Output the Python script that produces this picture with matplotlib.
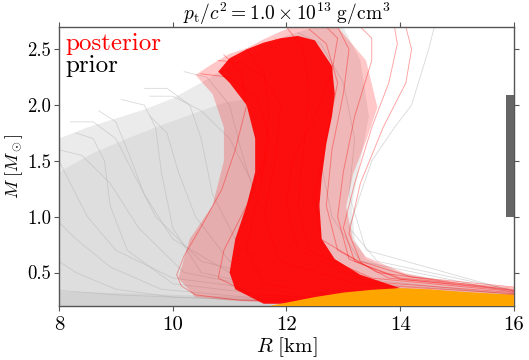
import matplotlib
matplotlib.use("Agg")
import matplotlib.pyplot as plt

plt.rcParams['font.family'] = ['cmr10', 'DejaVu Serif']
plt.rcParams['mathtext.fontset'] = 'cm'
plt.rcParams['axes.formatter.use_mathtext'] = True
plt.rcParams['axes.unicode_minus'] = False

# ---------------- data ----------------
X_TICKS = [8, 10, 12, 14, 16]
Y_TICKS = [0.5, 1.0, 1.5, 2.0, 2.5]
X_TICK_LABELS = ["8", "10", "12", "14", "16"]
Y_TICK_LABELS = ["0.5", "1.0", "1.5", "2.0", "2.5"]

# prior envelope (light grey region of overlapping prior M-R curves)
PRIOR_ENV_R = [8.0, 8.0, 8.5, 9.0, 9.5, 10.0, 10.5, 11.0, 11.5, 12.0, 12.5, 13.0,
               13.3, 13.45, 13.3, 13.15, 13.2, 13.4, 14.0, 15.0, 16.0, 16.0]
PRIOR_ENV_M = [0.2, 1.70, 1.80, 1.88, 1.96, 2.06, 2.20, 2.35, 2.50, 2.62, 2.70, 2.70,
               2.40, 1.90, 1.50, 1.10, 0.80, 0.62, 0.50, 0.41, 0.35, 0.2]
# denser part of the prior cloud
PRIOR_DENSE_R = [8.0, 8.0, 8.6, 9.2, 9.8, 10.4, 10.9, 11.25, 11.55, 11.55, 11.4, 11.2,
                 11.1, 11.4, 16.0, 16.0]
PRIOR_DENSE_M = [0.2, 1.40, 1.57, 1.70, 1.82, 1.93, 2.02, 2.05, 1.7, 1.4, 1.1, 0.8,
                 0.5, 0.3, 0.25, 0.2]
# dense low-mass strip of the prior cloud
PRIOR_LOW_R = [8.0, 8.0, 10.0, 12.0, 16.0, 16.0]
PRIOR_LOW_M = [0.2, 0.33, 0.30, 0.27, 0.25, 0.2]

# posterior envelope (sparse red curves)
POST_ENV_R = [10.4, 10.1, 10.3, 10.7, 10.9, 10.9, 10.7, 10.4, 10.7, 11.0, 11.3, 11.6, 11.9,
              12.1, 12.9, 13.4, 13.6, 13.4, 13.17, 13.05, 13.17, 13.4, 14.1, 15.0, 16.0,
              16.0, 12.0, 11.0]
POST_ENV_M = [0.28, 0.45, 0.8, 1.1, 1.5, 1.8, 2.1, 2.27, 2.37, 2.46, 2.51, 2.59, 2.66,
              2.70, 2.70, 2.40, 1.98, 1.68, 1.38, 1.09, 0.79, 0.64, 0.49, 0.40, 0.34,
              0.28, 0.22, 0.25]
# posterior core (dense red)
POST_CORE_R = [11.6, 11.1, 11.0, 11.1, 11.3, 11.45, 11.45, 11.3, 11.0, 10.8, 11.0, 11.3,
               11.6, 11.9, 12.2, 12.5, 12.8, 12.85, 12.8, 12.7, 12.62, 12.58, 12.62,
               12.85, 13.3, 14.0, 13.0, 12.0]
POST_CORE_M = [0.22, 0.35, 0.5, 0.8, 1.1, 1.4, 1.7, 2.0, 2.2, 2.3, 2.42, 2.5, 2.56, 2.6,
               2.62, 2.58, 2.35, 2.1, 1.9, 1.65, 1.35, 1.1, 0.8, 0.62, 0.48, 0.36,
               0.28, 0.22]

# orange low-mass (crust) region
CRUST_R = [11.7, 12.0, 12.5, 13.0, 13.5, 14.0, 14.5, 15.0, 15.5, 16.0, 16.0]
CRUST_M = [0.20, 0.23, 0.28, 0.32, 0.345, 0.36, 0.35, 0.33, 0.315, 0.30, 0.20]

# individual prior curves (R [km], M [Msun])
PRIOR_CURVES = [
    ([16, 12, 10, 9, 8.5, 8.2, 8.0], [0.25, 0.32, 0.45, 0.7, 1.0, 1.3, 1.5]),
    ([16, 13, 11, 10, 9.5, 9.2, 9.0, 8.7], [0.28, 0.35, 0.5, 0.8, 1.2, 1.6, 1.85, 1.95]),
    ([16, 14, 12, 10.5, 10, 9.8, 9.7, 9.5, 9.1], [0.23, 0.27, 0.33, 0.5, 0.9, 1.4, 1.8, 2.0, 2.05]),
    ([16, 13.2, 12, 11.5, 11.2, 11.0, 10.6, 10.2], [0.3, 0.45, 0.7, 1.1, 1.6, 2.0, 2.25, 2.3]),
    ([16, 12, 10, 9, 8.3, 8.0], [0.21, 0.24, 0.28, 0.35, 0.5, 0.6]),
    ([16, 11, 9, 8], [0.22, 0.26, 0.3, 0.34]),
    ([16, 12.5, 10.5, 9.7, 9.3, 9.0, 8.6, 8.2], [0.26, 0.35, 0.6, 1.0, 1.4, 1.7, 1.85, 1.85]),
    ([16, 13.3, 12.8, 12.6, 12.4, 12.2, 11.8], [0.32, 0.6, 1.0, 1.5, 2.0, 2.4, 2.6]),
    ([16, 13.4, 13.1, 13.2, 13.0, 12.6, 12.2], [0.33, 0.7, 1.2, 1.7, 2.2, 2.55, 2.65]),
    ([16, 13.6, 13.1, 13.5, 13.9, 14.2, 14.5, 14.6], [0.34, 0.6, 0.9, 1.5, 1.8, 2.0, 2.5, 2.7]),
    ([16, 12, 10, 9.2, 8.9, 8.8, 8.6, 8.3], [0.24, 0.28, 0.4, 0.7, 1.1, 1.5, 1.7, 1.75]),
    ([16, 12.8, 11.2, 10.7, 10.5, 10.3, 9.9, 9.5], [0.29, 0.4, 0.7, 1.2, 1.7, 2.0, 2.15, 2.15]),
    ([16, 12.2, 10.2, 9.4, 8.9, 8.4, 8.0], [0.23, 0.3, 0.5, 0.9, 1.3, 1.55, 1.6]),
    ([16, 13.0, 11.8, 11.4, 11.0, 10.5, 10.0, 9.6], [0.31, 0.42, 0.8, 1.3, 1.7, 1.95, 2.08, 2.08]),
    ([16, 11.5, 9.8, 8.9, 8.3, 8.0], [0.22, 0.27, 0.35, 0.55, 0.8, 0.95]),
    ([16, 12.6, 11.0, 10.4, 10.1, 9.9, 9.6], [0.27, 0.36, 0.6, 1.0, 1.4, 1.75, 1.9]),
]

# individual posterior curves (R [km], M [Msun])
POST_CURVES = [
    ([16, 13, 11.2, 10.4, 10.15, 10.07, 10.2, 10.5, 10.86, 11.1, 11.3, 11.2, 10.9],
     [0.28, 0.25, 0.25, 0.30, 0.38, 0.48, 0.65, 0.91, 1.24, 1.6, 2.0, 2.3, 2.45]),
    ([16, 13, 11.4, 10.8, 10.9, 11.3, 11.6, 11.7, 11.6, 11.3],
     [0.3, 0.27, 0.3, 0.45, 0.7, 1.1, 1.5, 1.9, 2.3, 2.5]),
    ([16, 14, 13.2, 13.0, 13.2, 13.5, 13.8, 13.95, 13.9],
     [0.36, 0.45, 0.6, 0.9, 1.3, 1.8, 2.2, 2.55, 2.7]),
    ([16, 14, 13.1, 12.9, 13.0, 13.2, 13.5, 13.5, 13.3],
     [0.35, 0.44, 0.62, 1.0, 1.4, 1.9, 2.4, 2.6, 2.7]),
    ([16, 13.8, 12.9, 12.7, 12.8, 13.0, 13.1, 12.9],
     [0.34, 0.45, 0.7, 1.1, 1.6, 2.1, 2.5, 2.7]),
    ([16, 13.5, 12.4, 12.2, 12.3, 12.4, 12.3, 12.0],
     [0.33, 0.45, 0.7, 1.1, 1.6, 2.1, 2.5, 2.7]),
    ([16, 13.2, 11.9, 11.6, 11.8, 11.9, 11.6, 11.2, 10.8],
     [0.31, 0.4, 0.6, 1.0, 1.5, 2.0, 2.25, 2.38, 2.4]),
    ([16, 14.2, 13.3, 13.1, 13.3, 13.7, 14.1, 14.2, 14.1],
     [0.37, 0.46, 0.6, 0.85, 1.3, 1.8, 2.2, 2.5, 2.7]),
    ([16, 13, 11.6, 11.3, 11.5, 11.7, 11.5, 11.0, 10.5],
     [0.3, 0.28, 0.4, 0.7, 1.2, 1.7, 2.05, 2.25, 2.28]),
    ([16, 13.6, 12.6, 12.5, 12.7, 12.9, 12.7, 12.4],
     [0.34, 0.5, 0.8, 1.2, 1.7, 2.2, 2.55, 2.68]),
    ([16, 13.4, 12.2, 12.0, 12.1, 12.5, 12.8, 12.9, 12.7],
     [0.32, 0.42, 0.7, 1.1, 1.5, 1.9, 2.3, 2.6, 2.7]),
]

# dark bar on the right edge (mass range)
BAR_M_LOW = 1.0
BAR_M_HIGH = 2.09
BAR_R = 16.0

# ---------------- figure ----------------
fig = plt.figure(figsize=(5.29, 3.6), dpi=100)
ax = fig.add_axes([0.1115, 0.15, 0.86, 0.775])

ax.fill(PRIOR_ENV_R, PRIOR_ENV_M, color='#ebebeb', lw=0, zorder=1)
ax.fill(PRIOR_DENSE_R, PRIOR_DENSE_M, color='#dedede', lw=0, zorder=1.1)
ax.fill(PRIOR_LOW_R, PRIOR_LOW_M, color='#d2d2d2', lw=0, zorder=1.2)
for r, m in PRIOR_CURVES:
    ax.plot(r, m, color='#b4b4b4', lw=0.6, alpha=0.5, zorder=1.5)

ax.fill(POST_ENV_R, POST_ENV_M, color='red', alpha=0.22, lw=0, zorder=2)
ax.fill(POST_CORE_R, POST_CORE_M, color='red', alpha=0.92, lw=0, zorder=2.2)
for r, m in POST_CURVES:
    ax.plot(r, m, color='red', lw=0.7, alpha=0.35, zorder=2.5)

ax.fill(CRUST_R, CRUST_M, color='orange', lw=0, zorder=3)

ax.bar([BAR_R], [BAR_M_HIGH - BAR_M_LOW], bottom=[BAR_M_LOW], width=0.28,
       color='#666666', zorder=4, clip_on=True)

ax.set_xlim(8, 16)
ax.set_ylim(0.2, 2.7)
ax.set_xticks(X_TICKS)
ax.set_xticklabels(X_TICK_LABELS)
ax.set_yticks(Y_TICKS)
ax.set_yticklabels(Y_TICK_LABELS)
ax.tick_params(axis='both', which='both', direction='out', length=3.5, width=0.8,
               color='#555555', labelsize=15, top=True, right=True)
ax.tick_params(axis='y', labelsize=13.5, pad=2)
for s in ax.spines.values():
    s.set_color('#555555')
    s.set_linewidth(1.0)

ax.set_xlabel(r'$R\ [{\rm km}]$', fontsize=15, labelpad=1)
ax.set_ylabel(r'$M\ [M_\odot]$', fontsize=13)
ax.yaxis.set_label_coords(-0.074, 0.5)
ax.set_title(r'$p_{\rm t}/c^2 = 1.0 \times 10^{13}\ {\rm g/cm^3}$', fontsize=14, pad=1)

ax.text(0.015, 0.9176, 'posterior', color='red', fontsize=18, transform=ax.transAxes,
        va='baseline', ha='left', zorder=6)
ax.text(0.015, 0.8387, 'prior', color='black', fontsize=18, transform=ax.transAxes,
        va='baseline', ha='left', zorder=6)

fig.savefig('out.png', dpi=100)
